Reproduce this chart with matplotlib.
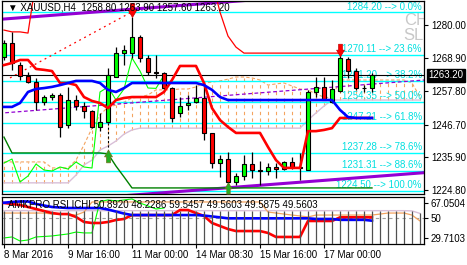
import matplotlib
matplotlib.use("Agg")
import matplotlib.pyplot as plt
from matplotlib.patches import Rectangle
from matplotlib.path import Path
from matplotlib.transforms import blended_transform_factory

plt.rcParams['font.family'] = ['Liberation Sans', 'DejaVu Sans']

# XAUUSD H4 candles
opens = [1269.29, 1273.98, 1266.62, 1262.94, 1260.93, 1254.24, 1255.91, 1256.58, 1246.55, 1254.91,
         1252.90, 1251.23, 1245.88, 1247.55, 1262.60, 1270.63, 1270.63, 1275.98, 1268.96, 1264.28,
         1263.94, 1258.92, 1250.56, 1253.24, 1254.24, 1255.58, 1243.87, 1233.84, 1235.17, 1227.48,
         1229.49, 1233.50, 1231.49, 1231.16, 1232.50, 1231.83, 1234.17, 1232.50, 1231.49, 1257.59,
         1259.26, 1254.24, 1257.92, 1268.63, 1264.61, 1258.92, 1258.80]
highs = [1274.98, 1277.66, 1267.62, 1264.28, 1262.27, 1256.58, 1257.25, 1257.25, 1259.26, 1256.58,
         1254.24, 1251.57, 1250.56, 1265.61, 1272.64, 1273.31, 1282.67, 1276.65, 1269.96, 1269.96,
         1264.28, 1259.26, 1255.91, 1256.58, 1259.93, 1259.93, 1243.87, 1236.51, 1237.52, 1230.49,
         1236.51, 1237.52, 1234.50, 1233.84, 1233.84, 1234.50, 1235.84, 1237.18, 1258.25, 1262.60,
         1262.60, 1261.60, 1269.96, 1269.29, 1265.61, 1259.93, 1263.90]
lows = [1268.29, 1264.95, 1261.60, 1260.60, 1251.57, 1253.24, 1254.91, 1242.54, 1245.54, 1251.57,
        1248.89, 1245.54, 1244.54, 1247.22, 1262.60, 1266.62, 1268.96, 1267.62, 1263.27, 1262.27,
        1258.25, 1247.55, 1249.22, 1251.57, 1253.91, 1241.53, 1232.16, 1229.15, 1225.47, 1226.48,
        1228.15, 1228.82, 1226.48, 1229.82, 1228.82, 1231.49, 1231.83, 1228.15, 1231.49, 1255.91,
        1254.91, 1253.91, 1257.59, 1262.27, 1258.25, 1257.59, 1257.60]
closes = [1273.98, 1267.29, 1262.94, 1260.93, 1254.24, 1255.91, 1256.58, 1245.88, 1254.91, 1252.90,
          1251.23, 1245.88, 1247.55, 1263.27, 1270.63, 1271.64, 1275.98, 1268.96, 1264.28, 1263.94,
          1258.92, 1248.89, 1252.90, 1253.91, 1255.58, 1243.87, 1233.84, 1235.17, 1227.48, 1229.49,
          1233.50, 1231.49, 1231.16, 1232.50, 1231.83, 1234.17, 1232.50, 1232.16, 1257.59, 1259.26,
          1254.91, 1258.59, 1268.96, 1264.61, 1258.92, 1258.80, 1263.20]

# ichimoku on price
tenkan = [1266.6, 1267.3, 1268.3, 1268.3, 1265.3, 1265.0, 1264.6, 1260.6, 1260.6, 1259.9,
          1255.9, 1254.6, 1253.9, 1252.2, 1254.9, 1255.6, 1255.9, 1255.9, 1255.9, 1255.9,
          1257.6, 1261.6, 1266.3, 1266.3, 1266.3, 1260.6, 1252.2, 1248.2, 1245.9, 1243.9,
          1243.9, 1243.9, 1243.9, 1239.2, 1234.8, 1232.2, 1232.2, 1232.2, 1244.5, 1244.5,
          1244.9, 1245.5, 1248.9, 1248.9, 1248.9, 1248.9, 1248.9]
kijun = [1252.6, 1252.6, 1253.9, 1257.6, 1258.6, 1258.9, 1259.3, 1259.9, 1260.6, 1261.3,
         1261.3, 1261.3, 1260.6, 1258.3, 1257.6, 1258.9] + [1260.6] * 9 + [1259.9, 1258.3, 1255.9] \
        + [1254.9] * 14 + [1251.6, 1249.2, 1248.9, 1248.9, 1248.9]
span_a = [1234.2] * 6 + [1232.2] * 3 + [1234.8, 1239.9, 1245.5, 1249.9, 1252.6, 1253.2, 1254.2,
          1255.6, 1255.9, 1256.6, 1258.3, 1258.3, 1258.3, 1258.6, 1258.6, 1259.3, 1260.6, 1260.9,
          1261.3, 1261.9, 1262.6, 1262.6, 1262.3, 1261.6, 1259.9, 1260.3, 1260.6, 1259.6, 1258.6,
          1258.3, 1256.9, 1255.9, 1255.6] + [1261.6] * 9 + [1260.6, 1255.9]
span_b = [1227.2] * 9 + [1229.8, 1233.2, 1234.8, 1238.2, 1239.5, 1241.2, 1243.5, 1244.9] \
         + [1245.5] * 21 + [1248.2, 1250.6, 1252.9, 1254.9] + [1254.9] * 11

# other lines on the price chart
upper_red = [1278.3, 1277.7, 1277.7, 1277.3] + [1295.0] * 23 + [1284.3, 1276.3, 1272.6] + [1270.6] * 13
stop_green = [1242.5] + [1237.2] * 12 + [1236.9, 1232.8, 1229.2] + [1225.5] * 31

# channel (bar, price) and fib levels
chan_top = [(-1, 1281.8), (53, 1292.9)]
chan_mid = [(-1, 1250.4), (53, 1261.7)]
chan_bot = [(-1, 1219.6), (53, 1230.7)]
red_trend = [(0.75, 1262.3), (16, 1284.4)]
fib_prices = [1284.20, 1270.11, 1261.20, 1254.35, 1247.21, 1237.28, 1231.31, 1224.50]
fib_pcts = ['0.0%', '23.6%', '38.2%', '50.0%', '61.8%', '78.6%', '88.6%', '100.0%']
sell_arrows = [(16, 1285.0, 10), (42, 1271.6, 9)]
buy_arrows = [(13, 1236.2, 9), (28, 1225.5, 8)]
price_ticks = [1280.00, 1268.90, 1257.80, 1246.70, 1235.90, 1224.80]

# sub window: AMKPRO RSI ICHI
rsi_tenkan = [62.3, 61.5, 60.7, 59.1, 57.5, 55.9, 54.3, 53.5, 53.5, 51.2,
              47.2, 46.4, 46.4, 47.2, 48.8, 49.6, 52.7, 52.7, 52.7, 52.7,
              52.7, 52.7, 56.7, 56.7, 54.3, 52.0, 46.4, 44.0, 41.6, 40.0,
              40.0, 40.0, 40.0, 38.5, 35.3, 35.3, 35.3, 35.3, 48.0, 48.0,
              48.0, 48.0, 50.9, 50.9, 50.9, 50.9, 50.89]
rsi_kijun = [62.5, 63.1, 63.5, 63.5, 61.5, 60.3, 59.1, 58.7, 58.3, 58.3,
             58.3, 58.3, 58.3, 57.1, 55.5, 53.9] + [52.7] * 9 + [52.3, 51.6, 50.9] \
            + [50.1] * 11 + [49.6, 49.6, 49.6, 48.9, 48.9, 48.9, 48.9, 48.23]
rsi_span_a = [54.3] * 6 + [53.5] * 3 + [52.7, 55.1] + [63.1] * 22 + [55.1, 54.3, 53.5, 52.7,
              52.0, 51.2] + [52.7] * 8 + [53.5, 54.3, 54.3, 54.3, 52.7, 48.0]
rsi_span_b = [56.2] * 51 + [56.0, 54.0]
rsi_chikou = [34.5, 35.3, 32.1, 32.9, 35.3, 35.7, 36.1, 36.9, 37.7, 39.2,
              38.5, 38.5, 63.5, 64.7, 63.9, 64.7, 65.5, 62.3, 59.9, 57.5, 58.3]
rsi_lo, rsi_hi = 29.7103, 67.0504

date_pos = [0, 8, 16, 24, 32, 40]
date_labels = ['8 Mar 2016', '9 Mar 16:00', '11 Mar 00:00', '14 Mar 08:30', '15 Mar 16:00', '17 Mar 00:00']

# thick MT4 style arrow, pointing down
arrow_down = Path([(-0.3, 1), (0.3, 1), (0.3, 0.05), (0.62, 0.05), (0, -1), (-0.62, 0.05),
                   (-0.3, 0.05), (-0.3, 1)], closed=True)
arrow_up = Path([(x, -y) for x, y in arrow_down.vertices], closed=True)

W, H = 467, 265
fig = plt.figure(figsize=(W / 100, H / 100), dpi=100)
ax = fig.add_axes([2 / W, (H - 194) / H, 422 / W, 193 / H])
sub = fig.add_axes([2 / W, (H - 244) / H, 422 / W, 47 / H])

n = len(closes)
bars = list(range(n))
xlim = (-0.25, 52.5)

# --- price chart ---
ax.set_xlim(*xlim)
ax.set_ylim(1223.47, 1288.03)
tr = blended_transform_factory(ax.transAxes, ax.transData)

cloud_x = list(range(len(span_a)))
ax.vlines(cloud_x, span_b, span_a, color='#F4A460', lw=0.8, linestyles=(0, (3, 3)), zorder=1)
ax.plot(cloud_x, span_a, color='#F4A460', lw=0.8, ls=(0, (3, 2)), zorder=1)
ax.plot(cloud_x, span_b, color='#D8BFD8', lw=1, zorder=1)

for p, pct in zip(fib_prices, fib_pcts):
    ax.axhline(p, color='#00FFFF', lw=1, zorder=1)
    ax.text(0.995, p + 0.3, '%.2f --> %s' % (p, pct), transform=tr, ha='right', va='bottom',
            color='#00E0E0', fontsize=7, zorder=1)

for pts, lw, ls in [(chan_top, 2.2, '-'), (chan_bot, 2.2, '-'), (chan_mid, 0.9, (0, (3, 2)))]:
    ax.plot([p[0] for p in pts], [p[1] for p in pts], color='#9400D3', lw=lw, ls=ls, zorder=1.5)
ax.plot([p[0] for p in red_trend], [p[1] for p in red_trend], color='red', lw=0.9, ls=(0, (1.5, 3)), zorder=1.5)

ax.axhline(closes[-1], color='black', lw=0.8, zorder=1.6)
ax.plot(range(len(upper_red)), upper_red, color='red', lw=0.9, zorder=2)
ax.plot(range(len(stop_green)), stop_green, color='#008000', lw=1.0, zorder=2)
ax.plot(range(len(rsi_chikou)), closes[26:26 + len(rsi_chikou)], color='#00FF00', lw=0.8, zorder=2)

for i in bars:
    o, h, l, c = opens[i], highs[i], lows[i], closes[i]
    ax.vlines(i, l, h, color='black', lw=0.9, zorder=3)
    col = '#00FF00' if c >= o else '#FF0000'
    ax.add_patch(Rectangle((i - 0.3, min(o, c)), 0.6, max(abs(c - o), 0.15),
                           facecolor=col, edgecolor='black', lw=0.8, zorder=3.5))

ax.plot(bars, tenkan, color='#FF0000', lw=1.9, zorder=4)
ax.plot(bars, kijun, color='#0000FF', lw=1.9, zorder=4)

ax.vlines(13, buy_arrows[0][1], lows[13], color='black', lw=0.8, linestyles=(0, (2, 2)), zorder=4)
for x, y, ms in sell_arrows:
    ax.plot(x, y, marker=arrow_down, ms=ms, mfc='#FF0000', mec='#C00000', mew=0.5, zorder=5)
for x, y, ms in buy_arrows:
    ax.plot(x, y, marker=arrow_up, ms=ms, mfc='#22B022', mec='#6B7A1F', mew=0.6, zorder=5,
            clip_on=False)

ax.text(0.014, 0.992, '\u25bc XAUUSD,H4  1258.80 1263.90 1257.60 1263.20', transform=ax.transAxes,
        ha='left', va='top', fontsize=7, color='black', zorder=6)
ax.text(0.952, 0.899, 'CH', transform=ax.transAxes, ha='left', va='center', fontsize=12,
        color='#C8C8C8', clip_on=True, zorder=0.5)
ax.text(0.952, 0.821, 'SL', transform=ax.transAxes, ha='left', va='center', fontsize=12,
        color='#C8C8C8', clip_on=True, zorder=0.5)

ax.yaxis.tick_right()
ax.set_yticks(price_ticks)
ax.set_yticklabels(['%.2f' % t for t in price_ticks])
ax.tick_params(axis='y', length=3, width=0.8, pad=2, labelsize=7)
ax.set_xticks([])
ax.text(1.01, closes[-1], '%.2f' % closes[-1], transform=tr, ha='left', va='center', fontsize=7,
        color='white', bbox=dict(boxstyle='square,pad=0.15', fc='black', ec='black'), zorder=6,
        clip_on=False)

# --- sub window ---
sub.set_xlim(*xlim)
sub.set_ylim(rsi_lo, rsi_hi)
sub.axhline(50, color='#A0A0A0', lw=0.8, ls=(0, (3, 3)), zorder=1)
sub.plot(range(len(rsi_span_b)), rsi_span_b, color='#D8BFD8', lw=1, zorder=2)
sub.plot(range(len(rsi_span_a)), rsi_span_a, color='#F4A460', lw=0.9, zorder=2)
sub.plot(range(len(rsi_chikou)), rsi_chikou, color='#00FF00', lw=0.8, zorder=2)
sub.plot(bars, rsi_tenkan, color='#FF0000', lw=1.9, zorder=3)
sub.plot(bars, rsi_kijun, color='#0000FF', lw=1.9, zorder=3)
# histogram is painted last, over the lines
sub.vlines(range(len(rsi_span_b)), rsi_lo, rsi_span_b, color='#505050', lw=0.9, zorder=3.5)
sub.text(0.014, 0.83, 'AMKPRO RSI ICHI 50.8920 48.2286 59.5457 49.5603 49.5875 49.5603',
         transform=sub.transAxes, ha='left', va='center', fontsize=7, color='black', zorder=4)

sub.yaxis.tick_right()
sub.set_yticks([rsi_hi - 6 * 0.7945, 50, rsi_lo + 6 * 0.7945])
sub.set_yticklabels(['67.0504', '50', '29.7103'])
sub.tick_params(axis='y', length=3, width=0.8, pad=2, labelsize=7)
sub.set_xticks(date_pos)
sub.set_xticklabels(date_labels, ha='left')
sub.tick_params(axis='x', length=3, width=0.8, pad=1.5, labelsize=7)

for a in (ax, sub):
    for s in a.spines.values():
        s.set_linewidth(0.9)
        s.set_color('black')

fig.savefig('out.png', dpi=100)
